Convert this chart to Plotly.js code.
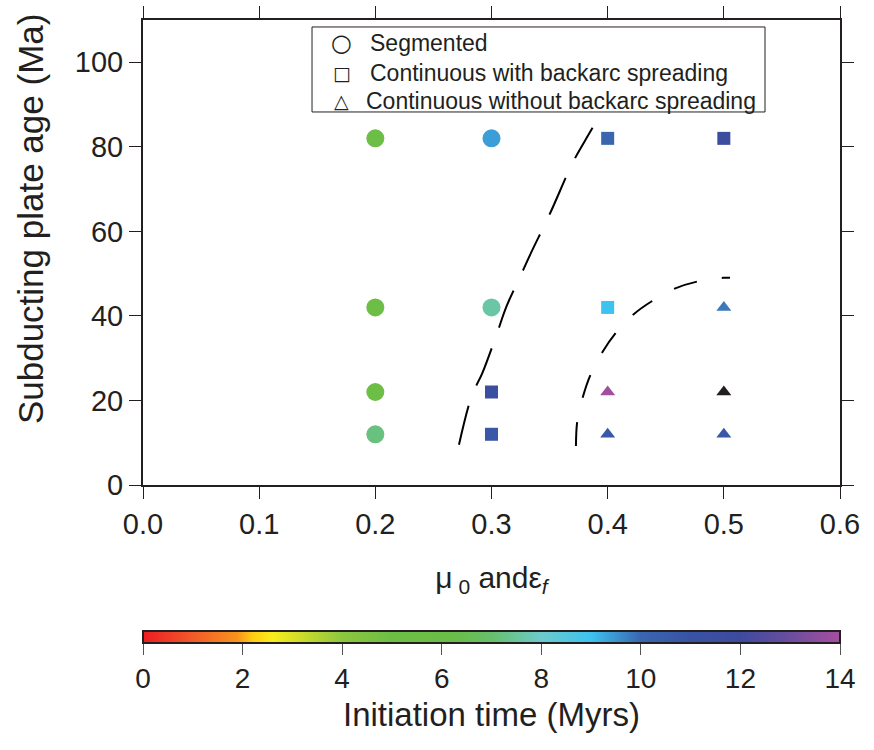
<!DOCTYPE html>
<html>
<head>
<meta charset="utf-8">
<script src="https://cdn.plot.ly/plotly-3.0.1.min.js"></script>
<style>html,body{margin:0;padding:0;background:#fff;}#chart{width:874px;height:750px;}</style>
</head>
<body>
<div id="chart"></div>
<script>
// ---- data ----
// friction parameter (mu_0 and eps_f) and subducting plate age (Ma)
const muX      = [0.2, 0.2, 0.2, 0.2, 0.3, 0.3, 0.3, 0.3, 0.4, 0.4, 0.4, 0.4, 0.5, 0.5, 0.5];
const plateAge = [82, 42, 22, 12, 82, 42, 22, 12, 82, 42, 22, 12, 82, 42, 12];
const initTime = [5.5, 5.5, 5.5, 7.2, 9.4, 7.6, 11.5, 10.7, 10.0, 9.0, 13.9, 10.7, 11.8, 9.8, 10.7];
// regime: 0 segmented, 1 continuous with backarc spreading, 2 continuous without
const regime   = [0, 0, 0, 0, 0, 0, 1, 1, 1, 1, 2, 2, 1, 2, 2];
// run without initiation time (black)
const noTimeX = [0.5];
const noTimeY = [22];
const noTimeRegime = [2];

// regime boundaries (dashed curves)
const boundary1X = [0.272, 0.283, 0.292, 0.304, 0.313, 0.325, 0.334, 0.350, 0.370, 0.380, 0.387];
const boundary1Y = [9.5, 21.1, 26.4, 35.3, 42.3, 49.5, 54.9, 64.0, 76.3, 81.2, 84.5];
const boundary2X = [0.3727, 0.3738, 0.3785, 0.3854, 0.3954, 0.4074, 0.4224, 0.4393, 0.4582, 0.4783, 0.4995, 0.5053];
const boundary2Y = [9.2, 15.0, 20.7, 26.2, 31.4, 36.1, 40.4, 43.7, 46.5, 48.2, 49.0, 49.0];

const regimeNames = ['Segmented', 'Continuous with backarc spreading', 'Continuous without backarc spreading'];
const regimeGlyphs = ['○', '□', '△'];
const colorTicks = [0, 2, 4, 6, 8, 10, 12, 14];
const xTicks = [0, 0.1, 0.2, 0.3, 0.4, 0.5, 0.6];
const yTicks = [0, 20, 40, 60, 80, 100];
const xTitle = 'μ<sub> 0</sub> andε<sub><i>f</i></sub>';
const yTitle = 'Subducting plate age (Ma)';
const cbTitle = 'Initiation time (Myrs)';

// ---- styles ----
const INK = '#231F20';
const FONT = 'Liberation Sans, Arial, Helvetica, sans-serif';
const symbolsFilled = ['circle', 'square', 'triangle-up'];
const sizeFilled = [18, 13, 13];
const colorscale = [
  [0/14, '#ED1C24'], [1/14, '#F15A29'], [1.9/14, '#F7941D'], [2.2/14, '#FFCC11'],
  [2.6/14, '#F9ED1C'], [4/14, '#8DC63F'], [5/14, '#6DBE45'], [6.3/14, '#6ABD48'],
  [7/14, '#67BF6B'], [8/14, '#6DCACB'], [9/14, '#3DC3F0'], [10/14, '#3A66B0'],
  [11/14, '#3953A4'], [12/14, '#3D4B9E'], [13/14, '#6B4D9E'], [14/14, '#A84E9E']
];

const traces = [];
traces.push({
  x: boundary1X, y: boundary1Y, mode: 'lines', showlegend: false, hoverinfo: 'skip',
  line: {color: '#000', width: 2, dash: '40px,22px', shape: 'spline'}
});
traces.push({
  x: boundary2X, y: boundary2Y, mode: 'lines', showlegend: false, hoverinfo: 'skip',
  line: {color: '#000', width: 2, dash: '24px,25px', shape: 'spline'}
});
traces.push({
  x: muX, y: plateAge, mode: 'markers', showlegend: false,
  marker: {
    symbol: regime.map(r => symbolsFilled[r]),
    size: regime.map(r => sizeFilled[r]),
    opacity: 1,
    color: initTime, colorscale: colorscale, cmin: 0, cmax: 14,
    line: {width: 0},
    showscale: true,
    colorbar: {
      orientation: 'h', thickness: 12, thicknessmode: 'pixels',
      len: 1, lenmode: 'fraction', x: 0.5, xanchor: 'center',
      y: -0.314, yanchor: 'top', xpad: 0, ypad: 0,
      outlinewidth: 2, outlinecolor: INK,
      ticks: 'outside', ticklen: 11, tickwidth: 1, tickcolor: '#555',
      tickvals: colorTicks, ticktext: colorTicks.map(String),
      tickfont: {family: FONT, size: 28, color: INK},
      title: {text: cbTitle, side: 'bottom', font: {family: FONT, size: 33, color: INK}}
    }
  }
});
traces.push({
  x: noTimeX, y: noTimeY, mode: 'markers', showlegend: false,
  marker: {symbol: noTimeRegime.map(r => symbolsFilled[r]), size: noTimeRegime.map(r => sizeFilled[r]), opacity: 1, color: INK, line: {width: 0}}
});

// colorbar internal division lines
const shapes = colorTicks.slice(1, -1).map(v => ({
  type: 'line', xref: 'paper', yref: 'paper',
  x0: v / 14, x1: v / 14, y0: -0.314, y1: -0.340,
  line: {color: '#333', width: 1}
}));
// legend box
shapes.push({
  type: 'rect', xref: 'paper', yref: 'paper',
  x0: 0.2425, x1: 0.8924, y0: 0.8022, y1: 0.985,
  fillcolor: '#fff', line: {color: INK, width: 1}, layer: 'above'
});

const legendRowY = [0.9505, 0.886, 0.8258];
const legendTextX = [0.3228, 0.3228, 0.3170];
const glyphSize = [24, 19, 19];
const annotations = [];
regimeNames.forEach((name, i) => {
  annotations.push({
    xref: 'paper', yref: 'paper', x: 0.2855, y: legendRowY[i], xanchor: 'center', yanchor: 'middle',
    text: regimeGlyphs[i], showarrow: false,
    font: {family: 'DejaVu Sans', size: glyphSize[i], color: INK}
  });
  annotations.push({
    xref: 'paper', yref: 'paper', x: legendTextX[i], y: legendRowY[i], xanchor: 'left', yanchor: 'middle',
    text: name, showarrow: false,
    font: {family: FONT, size: 23, color: INK}
  });
});
// y-axis title (placed as in the reference, above the plot centre)
annotations.push({
  xref: 'paper', yref: 'paper', x: -0.162, y: 0.572, xanchor: 'center', yanchor: 'middle',
  text: yTitle, textangle: -90, showarrow: false,
  font: {family: FONT, size: 35, color: INK}
});

const axisCommon = {
  showgrid: false, zeroline: false, showline: true, linewidth: 2, linecolor: INK,
  mirror: 'ticks', ticks: 'outside', ticklen: 12, tickwidth: 1, tickcolor: INK,
  tickfont: {family: FONT, size: 29, color: INK}
};

const layout = {
  width: 874, height: 750,
  margin: {l: 143, r: 34, t: 20, b: 265},
  paper_bgcolor: '#fff', plot_bgcolor: '#fff',
  font: {family: FONT, color: INK},
  showlegend: false,
  shapes: shapes,
  annotations: annotations,
  xaxis: Object.assign({}, axisCommon, {
    range: [0, 0.6], tickvals: xTicks, tickformat: '.1f',
    title: {text: xTitle, font: {family: FONT, size: 30, color: INK}, standoff: 28}
  }),
  yaxis: Object.assign({}, axisCommon, {
    range: [0, 110], tickvals: yTicks
  })
};

Plotly.newPlot('chart', traces, layout, {displayModeBar: false, staticPlot: true});
</script>
</body>
</html>
